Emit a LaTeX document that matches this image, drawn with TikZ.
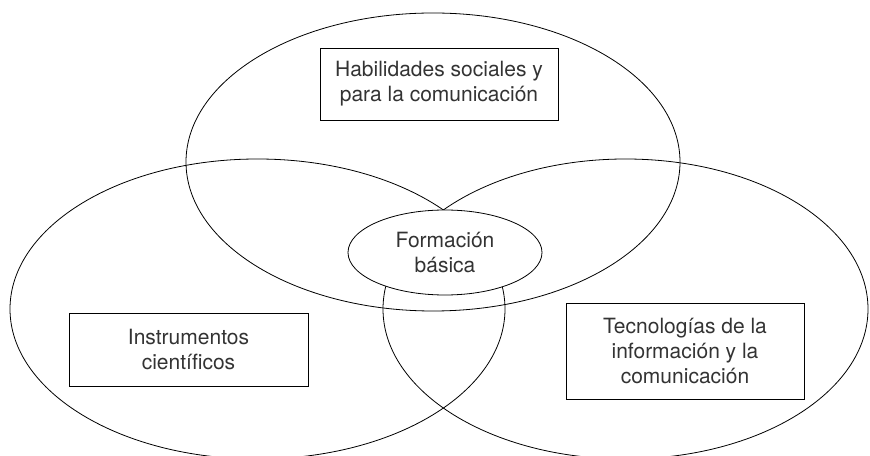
\documentclass[tikz,border=0pt]{standalone}
\usepackage{fontspec}
\setmainfont{TeX Gyre Heros}
\usetikzlibrary{shapes.geometric}
\begin{document}
\begin{tikzpicture}[line width=0.8bp,
    area/.style={draw,ellipse,inner sep=0pt},
    label box/.style={draw,rectangle,align=center,text=black!80,font=\fontsize{21bp}{25bp}\selectfont}]
  \useasboundingbox (0bp,0bp) rectangle (870bp,456bp);
  \node (Left) at (257.5bp,147.0bp) [area,minimum width=495bp,minimum height=300bp] {};
  \node (Right) at (625.5bp,147.0bp) [area,minimum width=485bp,minimum height=300bp] {};
  \node (Top) at (433.0bp,294.0bp) [area,minimum width=494bp,minimum height=298bp] {};
  \node (Core) at (445.0bp,203.5bp) [area,fill=white,minimum width=194bp,minimum height=85bp,align=center,text=black!80,font=\fontsize{21bp}{25bp}\selectfont] {Formación\\básica};
  \node (Social) at (439.0bp,372.0bp) [label box,minimum width=238bp,minimum height=72bp] {Habilidades sociales y\\para la comunicación};
  \node (Science) at (188.5bp,106.5bp) [label box,minimum width=239bp,minimum height=73bp] {Instrumentos\\científicos};
  \node (ICT) at (685.0bp,105.0bp) [label box,minimum width=238bp,minimum height=96bp] {Tecnologías de la\\información y la\\comunicación};
\end{tikzpicture}
\end{document}
